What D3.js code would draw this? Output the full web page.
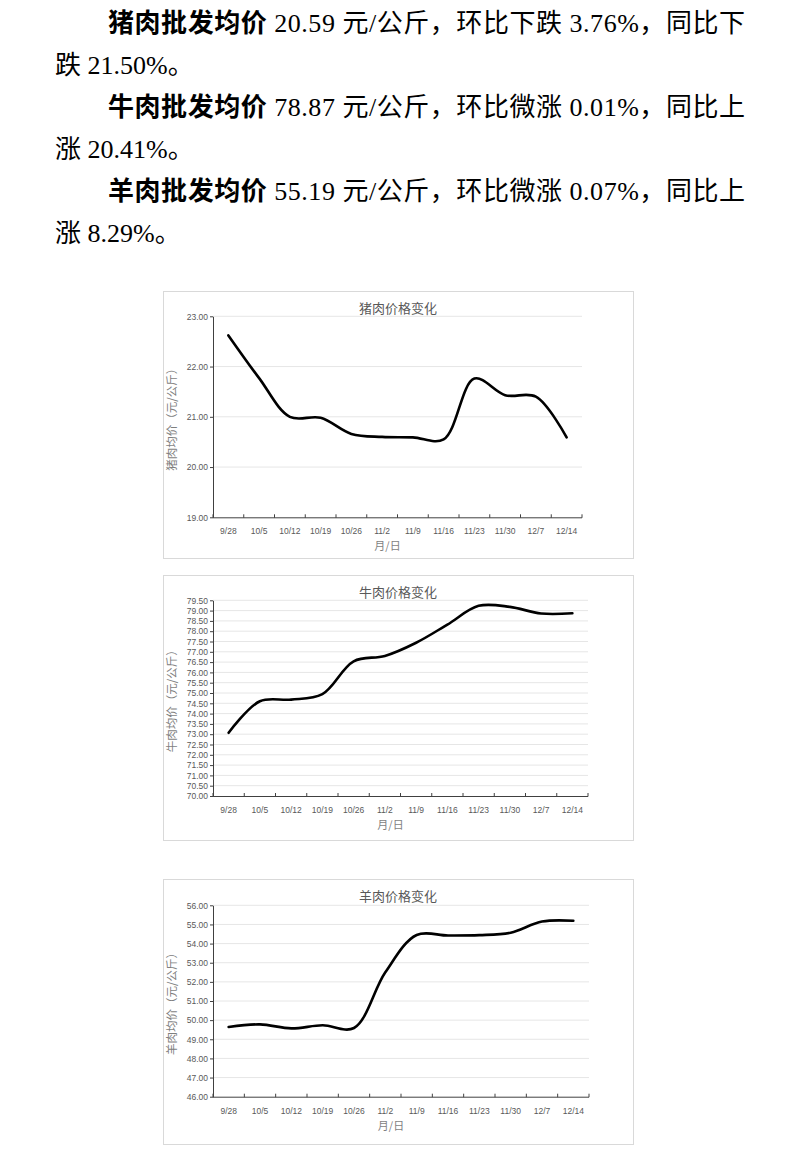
<!DOCTYPE html>
<html lang="zh">
<head>
<meta charset="utf-8">
<title>肉类价格变化</title>
<style type="text/css">
  body { margin: 0; background: #fff; }
  svg { display: block; }
</style>
</head>
<body>
<script src="https://cdn.jsdelivr.net/npm/d3@7"></script>
<script type="text/javascript">
// week labels on the x axis
var dates = ["9/28", "10/5", "10/12", "10/19", "10/26", "11/2", "11/9", "11/16", "11/23", "11/30", "12/7", "12/14"];

// weekly wholesale prices, yuan/kg
var pork   = [22.62, 21.77, 21.00, 20.98, 20.66, 20.60, 20.59, 20.55, 21.76, 21.43, 21.40, 20.59];
var beef   = [73.07, 74.60, 74.68, 74.95, 76.54, 76.80, 77.44, 78.32, 79.23, 79.18, 78.86, 78.87];
var mutton = [49.64, 49.78, 49.57, 49.73, 49.59, 52.50, 54.45, 54.42, 54.44, 54.57, 55.15, 55.19];

// y axis tick labels
var porkTicks   = [19, 20, 21, 22, 23];
var beefTicks   = d3.range(70, 79.51, 0.5);
var muttonTicks = [46, 47, 48, 49, 50, 51, 52, 53, 54, 55, 56];

// paragraph text
var leads = ["猪肉批发均价", "牛肉批发均价", "羊肉批发均价"];
var rests = [" 20.59 元/公斤，环比下跌 3.76%，同比下", " 78.87 元/公斤，环比微涨 0.01%，同比上", " 55.19 元/公斤，环比微涨 0.07%，同比上"];
var tails = ["跌 21.50%。", "涨 20.41%。", "涨 8.29%。"];

var w = 800, h = 1161;
var svg = d3.select("body").append("svg").attr("width", w).attr("height", h);

var serif = "'Liberation Serif', 'Noto Sans CJK SC', serif";
var sans = "'Noto Sans CJK SC', 'Noto Sans', sans-serif";
var num = "'Liberation Sans', Arial, sans-serif";

//Paragraphs
leads.forEach(function(lead, i) {
  var t = svg.append("text")
    .attr("x", 108).attr("y", 32 + i * 84)
    .attr("font-family", serif).attr("font-size", "26px").attr("fill", "#000")
    .attr("textLength", 637).attr("lengthAdjust", "spacing");
  t.append("tspan").attr("font-weight", "bold").text(lead);
  t.append("tspan").text(rests[i]);
  svg.append("text")
    .attr("x", 55).attr("y", 74 + i * 84)
    .attr("font-family", serif).attr("font-size", "26px").attr("fill", "#000")
    .text(tails[i]);
});

//Charts
var charts = [
  { title: "猪肉价格变化", ytitle: "猪肉均价（元/公斤）", values: pork, ticks: porkTicks,
    domain: [19, 23], frame: [163, 291, 470, 267], plot: [213, 582, 316.3, 517.3] },
  { title: "牛肉价格变化", ytitle: "牛肉均价（元/公斤）", values: beef, ticks: beefTicks,
    domain: [70, 79.5], frame: [163, 575, 470, 265], plot: [213, 588, 600.3, 796] },
  { title: "羊肉价格变化", ytitle: "羊肉均价（元/公斤）", values: mutton, ticks: muttonTicks,
    domain: [46, 56], frame: [163, 879, 470, 265], plot: [213, 589, 905.3, 1096.7] }
];

charts.forEach(function(c) {
  var f = c.frame, p = c.plot;
  var g = svg.append("g");

  g.append("rect")
    .attr("x", f[0] + 0.5).attr("y", f[1] + 0.5)
    .attr("width", f[2]).attr("height", f[3])
    .attr("fill", "#fff").attr("stroke", "#d9d9d9");

  var xScale = d3.scaleBand().domain(dates).range([p[0], p[1]]);
  var yScale = d3.scaleLinear().domain(c.domain).range([p[3], p[2]]);

  //gridlines
  g.selectAll("line.grid")
    .data(c.ticks.slice(1))
    .enter().append("line")
    .attr("class", "grid")
    .attr("x1", p[0]).attr("x2", p[1])
    .attr("y1", function(d) { return yScale(d); })
    .attr("y2", function(d) { return yScale(d); })
    .attr("stroke", "#e6e6e6").attr("stroke-width", 1);

  //y axis
  var yAxis = g.append("g")
    .attr("transform", "translate(" + p[0] + ",0)")
    .call(d3.axisLeft(yScale).tickValues(c.ticks).tickFormat(d3.format(".2f")).tickSize(3).tickSizeOuter(0));
  yAxis.select(".domain").attr("stroke", "#404040");
  yAxis.selectAll(".tick line").attr("stroke", "#404040");
  yAxis.selectAll(".tick text")
    .attr("font-family", num).attr("font-size", "8.5px").attr("fill", "#595959").attr("x", -5);

  //x axis
  var xAxis = g.append("g")
    .attr("transform", "translate(0," + p[3] + ")")
    .call(d3.axisBottom(xScale).tickSize(0).tickPadding(11));
  xAxis.select(".domain").attr("stroke", "#404040").attr("d", "M" + p[0] + ",0.5H" + p[1]);
  xAxis.selectAll(".tick text")
    .attr("font-family", num).attr("font-size", "8.5px").attr("fill", "#595959");

  //category tick marks between bands
  var edges = dates.map(function(d) { return xScale(d); }).concat([p[1]]);
  xAxis.selectAll("line.edge")
    .data(edges)
    .enter().append("line")
    .attr("class", "edge")
    .attr("x1", function(d) { return d; }).attr("x2", function(d) { return d; })
    .attr("y1", -3).attr("y2", 0.5)
    .attr("stroke", "#404040");

  //line
  var line = d3.line()
    .x(function(d, i) { return xScale(dates[i]) + xScale.bandwidth() / 2; })
    .y(function(d) { return yScale(d); })
    .curve(d3.curveCatmullRom.alpha(0.5));

  g.append("path")
    .datum(c.values)
    .attr("d", line)
    .attr("fill", "none")
    .attr("stroke", "#000")
    .attr("stroke-width", 2.6)
    .attr("stroke-linecap", "round");

  //titles
  g.append("text")
    .attr("x", f[0] + f[2] / 2).attr("y", f[1] + 22)
    .attr("text-anchor", "middle")
    .attr("font-family", sans).attr("font-size", "13px").attr("fill", "#595959")
    .text(c.title);

  g.append("text")
    .attr("x", (p[0] + p[1]) / 2 - 10).attr("y", p[3] + 33)
    .attr("text-anchor", "middle")
    .attr("font-family", sans).attr("font-size", "11px").attr("fill", "#7f7f7f")
    .text("月/日");

  var cy = (p[2] + p[3]) / 2;
  g.append("text")
    .attr("transform", "translate(176," + cy + ") rotate(-90)")
    .attr("text-anchor", "middle")
    .attr("font-family", sans).attr("font-size", "11.5px").attr("fill", "#7f7f7f")
    .text(c.ytitle);
});
</script>
</body>
</html>
